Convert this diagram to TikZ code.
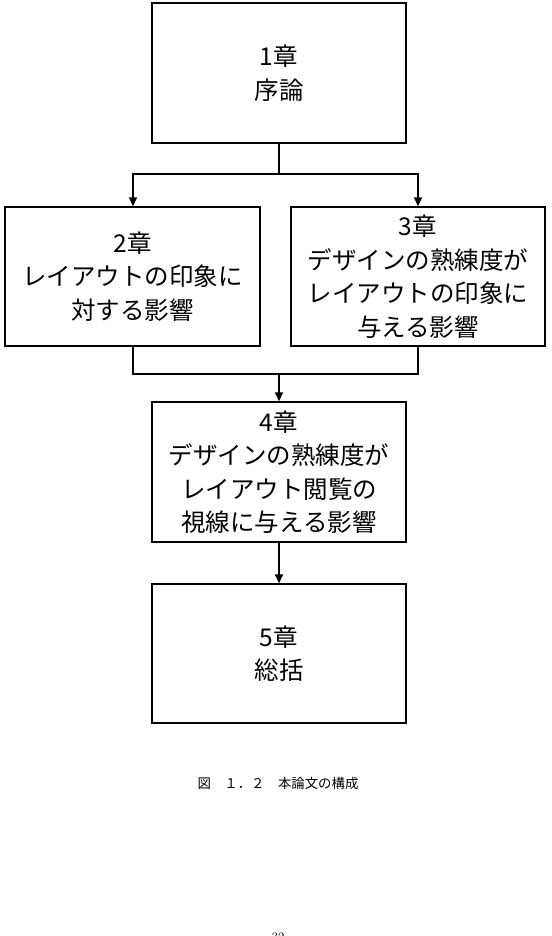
\documentclass[tikz,border=0pt]{standalone}
\usepackage{fontspec}
\newfontfamily\jp{Noto Sans CJK JP}
\usetikzlibrary{arrows.meta}
\tikzset{
  chap/.style={draw=black, line width=1.3pt, rectangle, inner sep=0pt, align=center,
    font=\jp\fontsize{24.5}{33.5}\selectfont},
  conn/.style={line width=1.3pt, draw=black},
  arr/.style={conn, -{Triangle[width=8pt,length=9pt]}},
}
\begin{document}
\begin{tikzpicture}[x=1pt,y=-1pt]
\useasboundingbox (0,0) rectangle (551,936);
\node[chap, minimum width=254pt, minimum height=140pt] (c1) at (279,73) {1章\\序論};
\node[chap, minimum width=255pt, minimum height=139pt] (c2) at (132.5,276.5) {2章\\レイアウトの印象に\\対する影響};
\node[chap, minimum width=254pt, minimum height=139pt] (c3) at (418,276.5) {3章\\デザインの熟練度が\\レイアウトの印象に\\与える影響};
\node[chap, minimum width=254pt, minimum height=140pt] (c4) at (279,472) {4章\\デザインの熟練度が\\レイアウト閲覧の\\視線に与える影響};
\node[chap, minimum width=254pt, minimum height=139pt] (c5) at (279,653.5) {5章\\総括};
\coordinate (j1) at (279,174);
\coordinate (j2) at (279,374);
\draw[conn] (c1.south) -- (j1);
\draw[arr] (j1) -| (c2.north -| 133,0);
\draw[arr] (j1) -| (c3.north);
\draw[conn] (c2.south -| 133,0) |- (j2);
\draw[conn] (c3.south) |- (j2);
\draw[arr] (j2) -- (c4.north);
\draw[arr] (c4.south) -- (c5.north);
\node[font=\jp\fontsize{13.4}{16}\selectfont] (cap) at (278,783) {図　１．２　本論文の構成};
\node[font=\fontsize{13}{15}\selectfont, anchor=base] (pg) at (278,941) {32};
\end{tikzpicture}
\end{document}
